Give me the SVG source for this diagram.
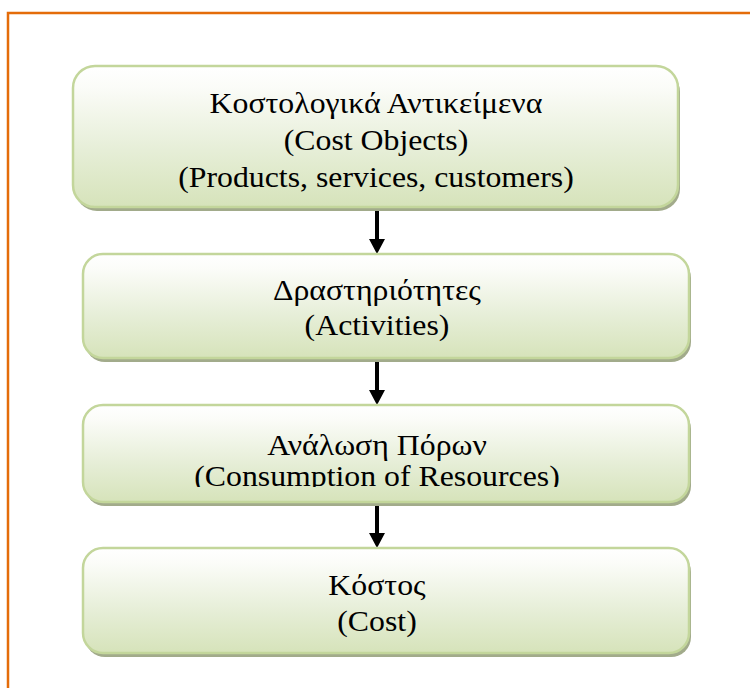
<svg xmlns="http://www.w3.org/2000/svg" width="750" height="688" viewBox="0 0 750 688">
  <defs>
    <linearGradient id="boxFill" x1="0" y1="0" x2="0" y2="1">
      <stop offset="0" stop-color="#ffffff"/>
      <stop offset="0.15" stop-color="#fbfcf8"/>
      <stop offset="0.6" stop-color="#e6eed7"/>
      <stop offset="1" stop-color="#d6e3ba"/>
    </linearGradient>
    <clipPath id="clip3">
      <rect x="83" y="405" width="606" height="82"/>
    </clipPath>
  </defs>
  <style>
    .shadow { fill: #a2ab8b; }
    .box { fill: url(#boxFill); stroke: #c3d69b; stroke-width: 2.5; }
    .label { font-size: 30px; fill: #000000; text-anchor: middle; }
    .conn { stroke: #000000; stroke-width: 4; fill: none; }
    .head { fill: #000000; }
  </style>

  <rect x="8" y="13" width="800" height="800" fill="none" stroke="#e46c0a" stroke-width="2.5"/>

  <g id="connectors">
    <line class="conn" x1="377" y1="207" x2="377" y2="240"/>
    <path class="head" d="M369,239 L385,239 L377,254 Z"/>
    <line class="conn" x1="377" y1="358" x2="377" y2="391"/>
    <path class="head" d="M369,390 L385,390 L377,405 Z"/>
    <line class="conn" x1="377" y1="502" x2="377" y2="534"/>
    <path class="head" d="M369,533 L385,533 L377,548 Z"/>
  </g>

  <g id="node-cost-objects">
    <rect class="shadow" x="75" y="70" width="605" height="141" rx="22"/>
    <rect class="box" x="73" y="66" width="605" height="141" rx="22"/>
    <g font-family="Liberation Serif, Times New Roman, serif" transform="translate(376,0) scale(1.06,1) translate(-376,0)">
      <text class="label" x="376" y="113">Κοστολογικά Αντικείμενα</text>
      <text class="label" x="376" y="150">(Cost Objects)</text>
      <text class="label" x="376" y="187">(Products, services, customers)</text>
    </g>
  </g>

  <g id="node-activities">
    <rect class="shadow" x="85" y="258" width="606" height="104" rx="20"/>
    <rect class="box" x="83" y="254" width="606" height="104" rx="20"/>
    <g font-family="Liberation Serif, Times New Roman, serif" transform="translate(377,0) scale(1.06,1) translate(-377,0)">
      <text class="label" x="377" y="300">Δραστηριότητες</text>
      <text class="label" x="377" y="335">(Activities)</text>
    </g>
  </g>

  <g id="node-resources">
    <rect class="shadow" x="85" y="409" width="606" height="97" rx="20"/>
    <rect class="box" x="83" y="405" width="606" height="97" rx="20"/>
    <g clip-path="url(#clip3)">
      <g font-family="Liberation Serif, Times New Roman, serif" transform="translate(377,0) scale(1.06,1) translate(-377,0)">
        <text class="label" x="377" y="455">Ανάλωση Πόρων</text>
        <text class="label" x="377" y="486">(Consumption of Resources)</text>
      </g>
    </g>
  </g>

  <g id="node-cost">
    <rect class="shadow" x="85" y="552" width="606" height="105" rx="20"/>
    <rect class="box" x="83" y="548" width="606" height="105" rx="20"/>
    <g font-family="Liberation Serif, Times New Roman, serif" transform="translate(377,0) scale(1.06,1) translate(-377,0)">
      <text class="label" x="377" y="595">Κόστος</text>
      <text class="label" x="377" y="631">(Cost)</text>
    </g>
  </g>
</svg>
